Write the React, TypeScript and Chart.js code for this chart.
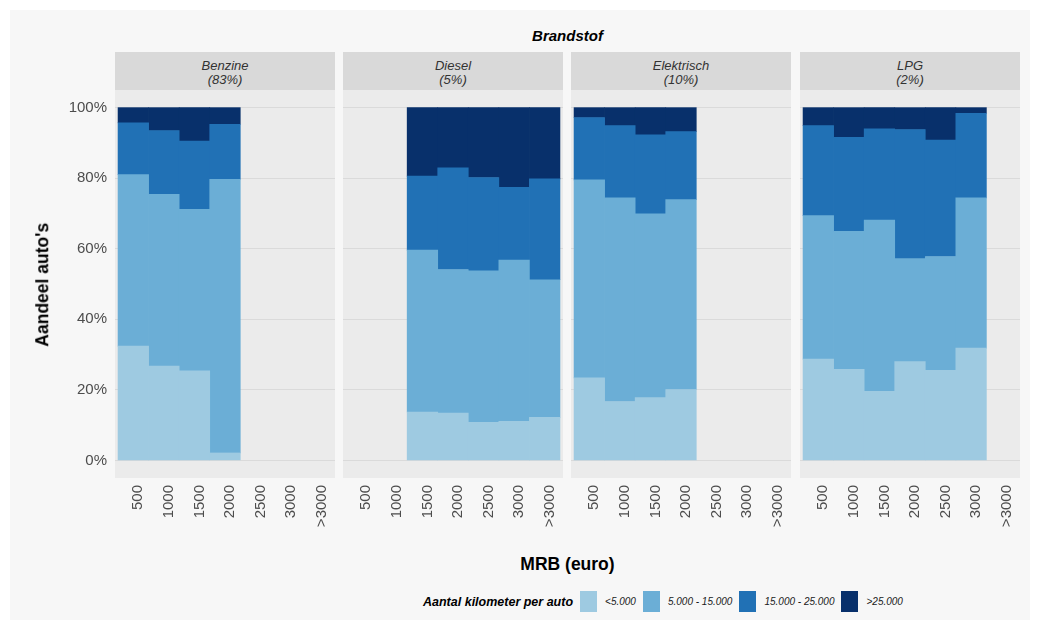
import { useEffect, useRef } from "react"
import { Chart, registerables } from "chart.js"

Chart.register(...registerables)

const FONT = "'Liberation Sans', Arial, Helvetica, sans-serif"
Chart.defaults.font.family = FONT

// x categories (MRB in euro) and km classes
const mrbLabels = ["500", "1000", "1500", "2000", "2500", "3000", ">3000"]
const kmLabels = ["<5.000", "5.000 - 15.000", "15.000 - 25.000", ">25.000"]
const kmColors = ["#9ecae1", "#6baed6", "#2171b5", "#08306b"]
const yTicks = [0, 20, 40, 60, 80, 100]

// Benzine (83%)
const benzineCats = ["500", "1000", "1500", "2000"]
const benzineUnder5 = [32.4, 26.7, 25.4, 2.1]
const benzine5to15 = [48.6, 48.7, 45.8, 77.6]
const benzine15to25 = [14.7, 18.1, 19.3, 15.6]
const benzineOver25 = [4.3, 6.5, 9.5, 4.7]

// Diesel (5%)
const dieselCats = ["1500", "2000", "2500", "3000", ">3000"]
const dieselUnder5 = [13.7, 13.4, 10.8, 11.1, 12.2]
const diesel5to15 = [45.9, 40.7, 42.9, 45.7, 39.0]
const diesel15to25 = [21.0, 28.8, 26.5, 20.6, 28.6]
const dieselOver25 = [19.4, 17.1, 19.8, 22.6, 20.2]

// Elektrisch (10%)
const elektrischCats = ["500", "1000", "1500", "2000"]
const elektrischUnder5 = [23.4, 16.7, 17.8, 20.1]
const elektrisch5to15 = [56.1, 57.7, 52.1, 53.8]
const elektrisch15to25 = [17.7, 20.5, 22.4, 19.3]
const elektrischOver25 = [2.8, 5.1, 7.7, 6.8]

// LPG (2%)
const lpgCats = ["500", "1000", "1500", "2000", "2500", "3000"]
const lpgUnder5 = [28.7, 25.8, 19.6, 28.0, 25.5, 31.8]
const lpg5to15 = [40.7, 39.1, 48.5, 29.2, 32.3, 42.6]
const lpg15to25 = [25.5, 26.7, 25.9, 36.6, 33.0, 24.0]
const lpgOver25 = [5.1, 8.4, 6.0, 6.2, 9.2, 1.6]

const facets = [
  { name: "Benzine", share: "(83%)", cats: benzineCats, series: [benzineUnder5, benzine5to15, benzine15to25, benzineOver25] },
  { name: "Diesel", share: "(5%)", cats: dieselCats, series: [dieselUnder5, diesel5to15, diesel15to25, dieselOver25] },
  { name: "Elektrisch", share: "(10%)", cats: elektrischCats, series: [elektrischUnder5, elektrisch5to15, elektrisch15to25, elektrischOver25] },
  { name: "LPG", share: "(2%)", cats: lpgCats, series: [lpgUnder5, lpg5to15, lpg15to25, lpgOver25] },
]

const panelLefts = [115, 343, 571, 800]
const PANEL_W = 220
const PANEL_TOP = 90
const PANEL_H = 388
const Y_AXIS_W = 65
const X_AXIS_H = 72

// grey panel background behind the bars
const panelBg = {
  id: "panelBg",
  beforeDraw(chart: any) {
    const { ctx, chartArea: a } = chart
    ctx.save()
    ctx.fillStyle = "#ebebeb"
    ctx.fillRect(a.left, a.top, a.right - a.left, a.bottom - a.top)
    ctx.restore()
  },
}

interface FacetProps {
  cats: string[]
  series: number[][]
  showY: boolean
}

function FacetChart({ cats, series, showY }: FacetProps) {
  const chartRef = useRef<HTMLCanvasElement>(null)

  useEffect(() => {
    if (!chartRef.current) return
    const chart = new Chart(chartRef.current, {
      type: "bar",
      data: {
        datasets: series.map((vals, s) => ({
          label: kmLabels[s],
          data: vals.map((v, i) => ({ x: mrbLabels.indexOf(cats[i]) + 1, y: v })),
          backgroundColor: kmColors[s],
          borderWidth: 0,
          barPercentage: 1,
          categoryPercentage: 1,
        })),
      },
      options: {
        animation: false,
        responsive: false,
        events: [],
        layout: { padding: 0 },
        plugins: {
          legend: { display: false },
          tooltip: { enabled: false },
        },
        scales: {
          x: {
            type: "linear",
            stacked: true,
            offset: false,
            min: 0.4,
            max: 7.6,
            afterBuildTicks: (scale: any) => {
              scale.ticks = mrbLabels.map((_, i) => ({ value: i + 1 }))
            },
            afterFit: (scale: any) => {
              scale.height = X_AXIS_H
              scale.paddingLeft = 0
              scale.paddingRight = 0
            },
            grid: { display: false, drawTicks: false, offset: false },
            border: { display: false },
            ticks: {
              autoSkip: false,
              minRotation: 90,
              maxRotation: 90,
              padding: 7,
              labelOffset: 5,
              color: "#4d4d4d",
              font: { size: 15 },
              callback: (v: any) => mrbLabels[Number(v) - 1],
            },
          },
          y: {
            stacked: true,
            min: -5,
            max: 105,
            afterBuildTicks: (scale: any) => {
              scale.ticks = yTicks.map((v) => ({ value: v }))
            },
            afterFit: (scale: any) => {
              scale.width = showY ? Y_AXIS_W : 0
              scale.paddingTop = 0
              scale.paddingBottom = 0
            },
            grid: { color: "#dadada", lineWidth: 1, drawTicks: false },
            border: { display: false },
            ticks: {
              display: showY,
              padding: 8,
              color: "#4d4d4d",
              font: { size: 15 },
              callback: (v: any) => v + "%",
            },
          },
        },
      },
      plugins: [panelBg],
    } as any)

    return () => chart.destroy()
  }, [cats, series, showY])

  const w = PANEL_W + (showY ? Y_AXIS_W : 0)
  const h = PANEL_H + X_AXIS_H
  return <canvas ref={chartRef} width={w} height={h} style={{ width: w, height: h, display: "block" }} />
}

export default function App() {
  return (
    <div style={{ position: "absolute", left: 0, top: 0, width: 1040, height: 632, background: "#ffffff", fontFamily: FONT, overflow: "hidden" }}>
      <div style={{ position: "absolute", left: 10, top: 10, width: 1020, height: 610, background: "#f7f7f7" }} />

      <div style={{ position: "absolute", left: 115, top: 28, width: 905, textAlign: "center", fontSize: 15, lineHeight: "15px", fontWeight: "bold", fontStyle: "italic", color: "#000" }}>
        Brandstof
      </div>

      {facets.map((f, k) => (
        <div key={f.name}>
          <div style={{ position: "absolute", left: panelLefts[k], top: 52, width: PANEL_W, height: 38, background: "#d9d9d9", boxSizing: "border-box", paddingTop: 7, textAlign: "center", fontSize: 13, lineHeight: "14px", fontStyle: "italic", color: "#333" }}>
            {f.name}
            <br />
            {f.share}
          </div>
          <div style={{ position: "absolute", left: panelLefts[k] - (k === 0 ? Y_AXIS_W : 0), top: PANEL_TOP }}>
            <FacetChart cats={f.cats} series={f.series} showY={k === 0} />
          </div>
        </div>
      ))}

      <div style={{ position: "absolute", left: -57, top: 275.75, width: 200, height: 17.5, lineHeight: "17.5px", textAlign: "center", fontSize: 17.5, fontWeight: "bold", color: "#000", transform: "rotate(-90deg)" }}>
        Aandeel auto's
      </div>

      <div style={{ position: "absolute", left: 115, top: 556, width: 905, textAlign: "center", fontSize: 17.5, lineHeight: "17.5px", fontWeight: "bold", color: "#000" }}>
        MRB (euro)
      </div>

      <div style={{ position: "absolute", left: 423, top: 591, height: 21, display: "flex", alignItems: "center", whiteSpace: "nowrap" }}>
        <span style={{ fontSize: 12.5, fontWeight: "bold", fontStyle: "italic", color: "#000", marginRight: 7 }}>Aantal kilometer per auto</span>
        {kmLabels.map((lab, s) => (
          <span key={lab} style={{ display: "flex", alignItems: "center", marginRight: 7 }}>
            <span style={{ display: "inline-block", width: 17, height: 21, background: kmColors[s], marginRight: 8 }} />
            <span style={{ fontSize: 10, fontStyle: "italic", color: "#1a1a1a" }}>{lab}</span>
          </span>
        ))}
      </div>
    </div>
  )
}
